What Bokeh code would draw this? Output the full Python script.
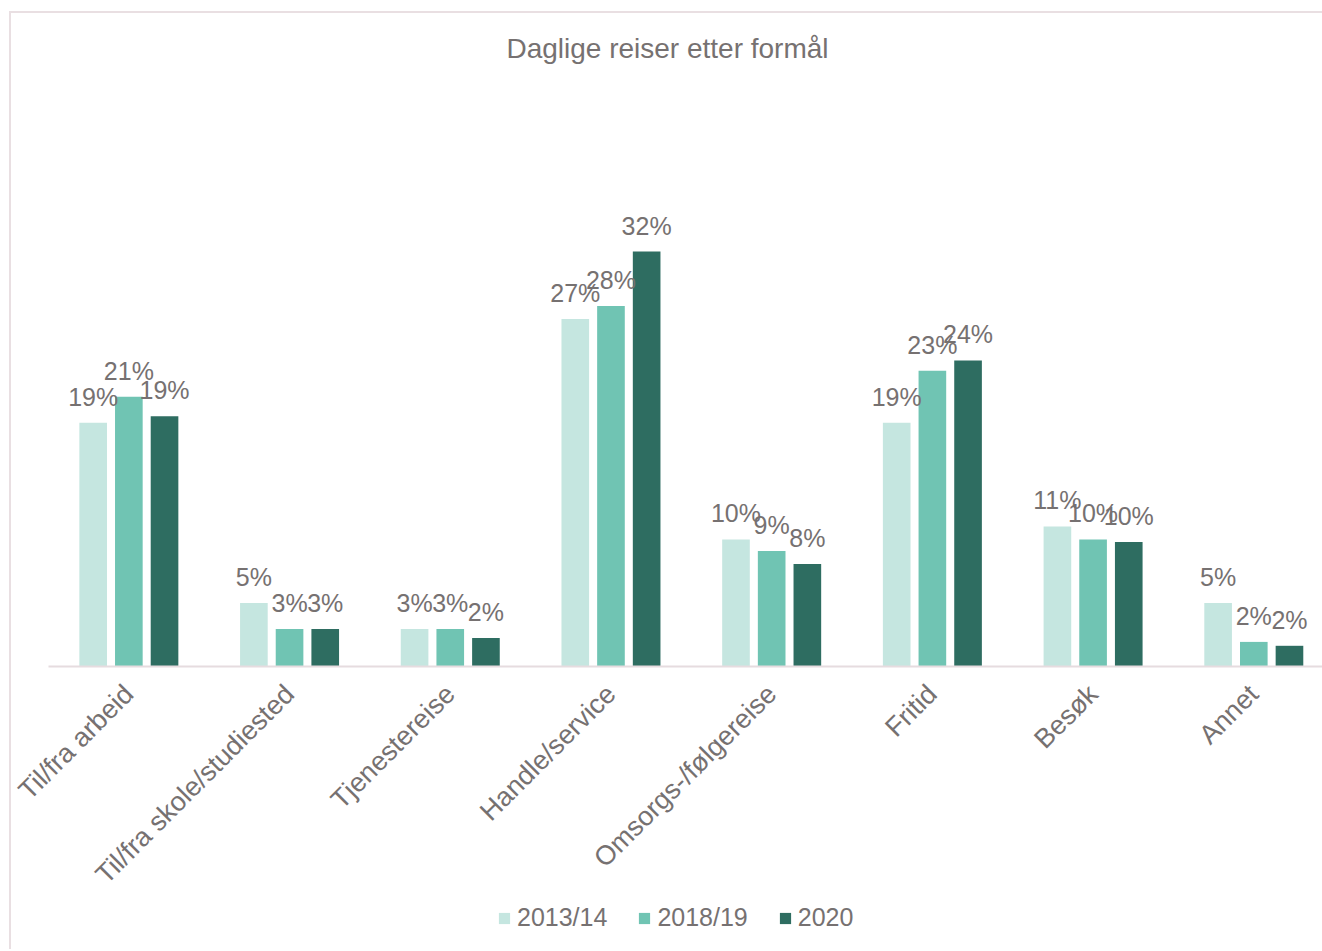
import numpy as np
from bokeh.plotting import figure
from bokeh.core.properties import value
from bokeh.models import (ColumnDataSource, Range1d, FixedTicker, LabelSet, Label,
                          Legend, LegendItem)
from bokeh.transform import dodge
from bokeh.embed import file_html
from bokeh.resources import INLINE

title = "Daglige reiser etter formål"
categories = ["Til/fra arbeid", "Til/fra skole/studiested", "Tjenestereise",
              "Handle/service", "Omsorgs-/følgereise", "Fritid", "Besøk", "Annet"]
series_names = ["2013/14", "2018/19", "2020"]
v_2013_14 = [18.8, 4.9, 2.9, 26.8, 9.8, 18.8, 10.8, 4.9]
v_2018_19 = [20.8, 2.9, 2.9, 27.8, 8.9, 22.8, 9.8, 1.9]
v_2020 = [19.3, 2.9, 2.2, 32.0, 7.9, 23.6, 9.6, 1.6]
series_values = [v_2013_14, v_2018_19, v_2020]
colors = ["#C5E6E0", "#70C4B3", "#2E6D61"]

FONT = "Liberation Sans"
TXT = "#767171"
LINE = "#E6DCDF"

centers = np.arange(len(categories)) + 0.5
src = ColumnDataSource(dict(xc=centers))
for name, vals in zip(series_names, series_values):
    src.data[name] = vals
    src.data[name + "_lbl"] = [f"{round(v):.0f}%" for v in vals]

W, H = 1313, 938
p = figure(width=W, height=H, output_backend="svg", toolbar_location=None,
           x_range=Range1d(-0.2302, 7.94), y_range=Range1d(-21.97, 50.35),
           min_border_left=0, min_border_right=0, min_border_top=0,
           min_border_bottom=0)
p.margin = (11, 0, 0, 9)
p.styles = {"border-left": "2px solid #E9DFE2", "border-top": "2px solid #E9DFE2"}
p.outline_line_color = None
p.background_fill_color = "white"
p.border_fill_color = "white"
p.xgrid.visible = False
p.ygrid.visible = False
p.yaxis.visible = False

p.add_layout(Label(x=656, y=903, x_units="screen", y_units="screen", text=title,
                   text_align="center", text_baseline="alphabetic",
                   text_font=FONT, text_font_size="28px", text_color=TXT))

offsets = [-0.222, 0.0, 0.222]
items = []
for name, off, col in zip(series_names, offsets, colors):
    r = p.vbar(x=dodge("xc", off, range=p.x_range), top=name, width=0.172,
               bottom=0, source=src, fill_color=col, line_color=None)
    items.append(LegendItem(label=name, renderers=[r]))
    lbl = LabelSet(x=dodge("xc", off, range=p.x_range), y=name, text=name + "_lbl",
                   source=src, text_align="center", text_baseline="alphabetic",
                   y_offset=17, text_font=value(FONT), text_font_size="25px",
                   text_color=TXT)
    p.add_layout(lbl)

ax = p.xaxis[0]
ax.fixed_location = 0
ax.bounds = (0, 7.94)
ax.ticker = FixedTicker(ticks=list(centers))
ax.major_label_overrides = {float(c): cat for c, cat in zip(centers, categories)}
ax.major_label_orientation = np.pi / 4
ax.major_label_text_font = FONT
ax.major_label_text_font_size = "27px"
ax.major_label_text_color = TXT
ax.major_label_standoff = 17
ax.major_tick_line_color = None
ax.minor_tick_line_color = None
ax.axis_line_color = LINE
ax.axis_line_width = 2

legend = Legend(items=items, orientation="horizontal", location=(486, 19),
                padding=0, margin=0, spacing=30, label_standoff=6,
                glyph_width=14, glyph_height=14, border_line_color=None,
                background_fill_alpha=0, label_text_font=FONT,
                label_text_font_size="25px", label_text_color=TXT)
p.add_layout(legend, "center")

open("out.html", "w").write(file_html(p, INLINE))
